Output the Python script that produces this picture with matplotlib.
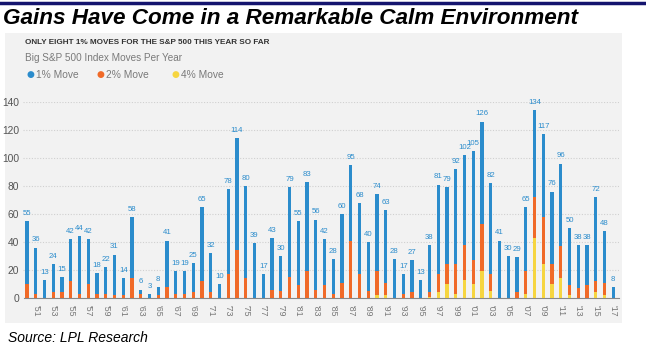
import matplotlib.pyplot as plt
from matplotlib.patches import Rectangle
from matplotlib.lines import Line2D

W, H = 646, 351

years = list(range(1950, 2018))
move1 = [55, 36, 13, 24, 15, 42, 44, 42, 18, 22, 31, 14, 58, 6, 3, 8, 41, 19, 19, 25,
         65, 32, 10, 78, 114, 80, 39, 17, 43, 30, 79, 55, 83, 56, 42, 28, 60, 95, 68, 40,
         74, 63, 28, 17, 27, 13, 38, 81, 79, 92, 102, 105, 126, 82, 41, 30, 29, 65, 134, 117,
         76, 96, 50, 38, 38, 72, 48, 8]
move2 = [10, 3, 0, 4, 4, 12, 3, 10, 3, 3, 2, 2, 14, 3, 0, 2, 8, 3, 3, 4,
         12, 4, 0, 17, 34, 14, 0, 0, 6, 5, 15, 9, 19, 6, 9, 3, 11, 41, 17, 5,
         19, 11, 0, 3, 4, 0, 4, 17, 24, 24, 38, 27, 53, 17, 0, 0, 4, 19, 72, 58,
         24, 37, 9, 7, 9, 12, 11, 0]
move4 = [0] * 40 + [2, 2, 0, 0, 0, 0, 1, 4, 10, 3, 13, 10, 19, 5, 0, 0, 0, 3, 43, 24,
                    10, 14, 2, 0, 0, 4, 2, 0]
tick_years = list(range(1951, 2018, 2))

BLUE = "#2b8ccc"
ORANGE = "#f06a28"
YELLOW = "#f6d540"
GRAY_TXT = "#7a7a7a"
SANS = "Liberation Sans"


def fx(px):
    return px / W


def fy(py):
    return 1 - py / H


fig = plt.figure(figsize=(W / 100, H / 100), dpi=100)

# header rule and panel background
fig.add_artist(Line2D([0, 1], [fy(3), fy(3)], color="#14146e", lw=2.5))
fig.add_artist(Rectangle((fx(5), fy(323)), fx(617), fy(33) - fy(323),
                         facecolor="#f2f2f2", edgecolor="none", zorder=0))

fig.text(fx(3), fy(18), "Gains Have Come in a Remarkable Calm Environment",
         fontsize=16.2, fontweight="bold", style="italic", family=SANS,
         va="center", ha="left")
fig.text(fx(25), fy(42), "ONLY EIGHT 1% MOVES FOR THE S&P 500 THIS YEAR SO FAR",
         fontsize=5.9, fontweight="bold", family=SANS, color="#333333",
         va="center", ha="left")
fig.text(fx(25), fy(58), "Big S&P 500 Index Moves Per Year",
         fontsize=7.2, family=SANS, color=GRAY_TXT, va="center", ha="left")

for x0, c, lab in [(30, BLUE, "1% Move"), (100, ORANGE, "2% Move"), (175, YELLOW, "4% Move")]:
    fig.text(fx(x0), fy(75), "\u25cf", color=c, fontsize=6.5, va="center", ha="center")
    fig.text(fx(x0 + 6), fy(75), lab, color=GRAY_TXT, fontsize=7.4, family=SANS,
             va="center", ha="left")

fig.text(fx(8), fy(338), "Source: LPL Research", fontsize=10, style="italic",
         family=SANS, va="center", ha="left")

ax = fig.add_axes([fx(23.5), fy(298), fx(595), fy(102) - fy(298)])
ax.set_facecolor("none")

bw = 0.36
ax.bar(years, move1, width=bw, color=BLUE, zorder=2)
ax.bar(years, move2, width=bw, color=ORANGE, zorder=3)
ax.bar(years, move4, width=bw, color=YELLOW, zorder=4)

for yr, v in zip(years, move1):
    ax.text(yr, v + 3, str(v), color=BLUE, fontsize=5.6, family=SANS,
            ha="center", va="bottom", clip_on=False)

ax.set_xlim(1949.6, 2017.6)
ax.set_ylim(0, 140)
ax.set_yticks(range(0, 141, 20))
ax.yaxis.grid(True, linestyle=(0, (1, 1.5)), color="#d0d0d0", lw=0.8, zorder=0)
ax.set_xticks(tick_years)
ax.set_xticklabels(["'" + str(y)[2:] for y in tick_years], rotation=270,
                   fontsize=6.3, family=SANS, color="#777777")
ax.tick_params(axis="both", length=0)
ax.tick_params(axis="x", pad=5)
ax.tick_params(axis="y", labelsize=7.4, labelcolor="#555555", pad=3)
for lab in ax.get_yticklabels():
    lab.set_family(SANS)
for s in ["top", "right", "left"]:
    ax.spines[s].set_visible(False)
ax.spines["bottom"].set_color("#888888")
ax.spines["bottom"].set_linewidth(0.8)

fig.savefig("out.png", dpi=100)
